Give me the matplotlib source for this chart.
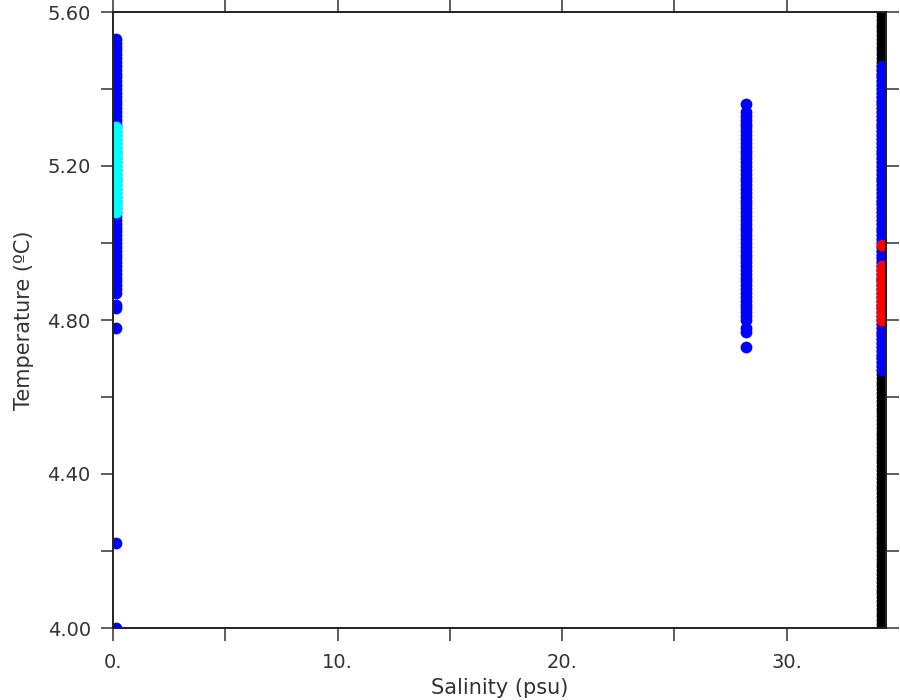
import matplotlib
matplotlib.use("Agg")
import matplotlib.pyplot as plt
import numpy as np
from matplotlib.ticker import MultipleLocator, FixedLocator, FixedFormatter

# ---- data ----
# blue samples near salinity 0
blue0_sal = 0.12
blue0_temp = [5.53, 5.52, 5.51, 5.50, 5.49, 5.48, 5.47, 5.46, 5.45, 5.44,
              5.43, 5.42, 5.41, 5.40, 5.39, 5.38, 5.37, 5.36, 5.35, 5.34,
              5.33, 5.32, 5.31, 5.30, 5.29, 5.28, 5.27, 5.26, 5.25, 5.24,
              5.23, 5.22, 5.21, 5.20, 5.19, 5.18, 5.17, 5.16, 5.15, 5.14,
              5.13, 5.12, 5.11, 5.10, 5.09, 5.08, 5.07, 5.06, 5.05, 5.04,
              5.03, 5.02, 5.01, 5.00, 4.99, 4.98, 4.97, 4.96, 4.95, 4.94,
              4.93, 4.92, 4.91, 4.90, 4.89, 4.88, 4.87, 4.84, 4.83, 4.78,
              4.22, 4.00]
# cyan samples near salinity 0
cyan0_sal = 0.14
cyan0_temp = [5.30, 5.29, 5.28, 5.27, 5.26, 5.25, 5.24, 5.23, 5.22, 5.21,
              5.20, 5.19, 5.18, 5.17, 5.16, 5.15, 5.14, 5.13, 5.12, 5.11,
              5.10, 5.09, 5.08]
# blue samples near salinity 28.2
blue28_sal = 28.2
blue28_temp = [5.36, 5.34, 5.33, 5.32, 5.31, 5.30, 5.29, 5.28, 5.27, 5.26,
               5.25, 5.24, 5.23, 5.22, 5.21, 5.20, 5.19, 5.18, 5.17, 5.16,
               5.15, 5.14, 5.13, 5.12, 5.11, 5.10, 5.09, 5.08, 5.07, 5.06,
               5.05, 5.04, 5.03, 5.02, 5.01, 5.00, 4.99, 4.98, 4.97, 4.96,
               4.95, 4.94, 4.93, 4.92, 4.91, 4.90, 4.89, 4.88, 4.87, 4.86,
               4.85, 4.84, 4.83, 4.82, 4.81, 4.80, 4.78, 4.77, 4.73]
# black samples near salinity 34.25
black34_sal = 34.25
black34_temp = [4.00, 4.01, 4.02, 4.03, 4.04, 4.05, 4.06, 4.07, 4.08, 4.09,
                4.10, 4.11, 4.12, 4.13, 4.14, 4.15, 4.16, 4.17, 4.18, 4.19,
                4.20, 4.21, 4.22, 4.23, 4.24, 4.25, 4.26, 4.27, 4.28, 4.29,
                4.30, 4.31, 4.32, 4.33, 4.34, 4.35, 4.36, 4.37, 4.38, 4.39,
                4.40, 4.41, 4.42, 4.43, 4.44, 4.45, 4.46, 4.47, 4.48, 4.49,
                4.50, 4.51, 4.52, 4.53, 4.54, 4.55, 4.56, 4.57, 4.58, 4.59,
                4.60, 4.61, 4.62, 4.63, 4.64, 4.65, 4.66, 4.67, 4.68, 4.69,
                4.70, 4.71, 4.72, 4.73, 4.74, 4.75, 4.76, 4.77, 4.78, 4.79,
                4.80, 4.81, 4.82, 4.83, 4.84, 4.85, 4.86, 4.87, 4.88, 4.89,
                4.90, 4.91, 4.92, 4.93, 4.94, 4.95, 4.96, 4.97, 4.98, 4.99,
                5.00, 5.01, 5.02, 5.03, 5.04, 5.05, 5.06, 5.07, 5.08, 5.09,
                5.10, 5.11, 5.12, 5.13, 5.14, 5.15, 5.16, 5.17, 5.18, 5.19,
                5.20, 5.21, 5.22, 5.23, 5.24, 5.25, 5.26, 5.27, 5.28, 5.29,
                5.30, 5.31, 5.32, 5.33, 5.34, 5.35, 5.36, 5.37, 5.38, 5.39,
                5.40, 5.41, 5.42, 5.43, 5.44, 5.45, 5.46, 5.47, 5.48, 5.49,
                5.50, 5.51, 5.52, 5.53, 5.54, 5.55, 5.56, 5.57, 5.58, 5.59,
                5.60]
# blue samples near salinity 34.25
blue34_sal = 34.25
blue34_temp = [5.46, 5.45, 5.44, 5.43, 5.42, 5.41, 5.40, 5.39, 5.38, 5.37,
               5.36, 5.35, 5.34, 5.33, 5.32, 5.31, 5.30, 5.29, 5.28, 5.27,
               5.26, 5.25, 5.24, 5.23, 5.22, 5.21, 5.20, 5.19, 5.18, 5.17,
               5.16, 5.15, 5.14, 5.13, 5.12, 5.11, 5.10, 5.09, 5.08, 5.07,
               5.06, 5.05, 5.04, 5.03, 5.02, 5.01, 5.00, 4.99, 4.98, 4.97,
               4.96, 4.95, 4.94, 4.93, 4.92, 4.91, 4.90, 4.89, 4.88, 4.87,
               4.86, 4.85, 4.84, 4.83, 4.82, 4.81, 4.80, 4.79, 4.78, 4.77,
               4.76, 4.75, 4.74, 4.73, 4.72, 4.71, 4.70, 4.69, 4.68, 4.67]
# red samples near salinity 34.27
red34_sal = 34.27
red34_temp = [4.995, 4.94, 4.93, 4.92, 4.91, 4.90, 4.89, 4.88, 4.87, 4.86,
              4.85, 4.84, 4.83, 4.82, 4.81, 4.80]

x_ticks = [0, 10, 20, 30]
x_ticklabels = ["0.", "10.", "20.", "30."]
y_ticks = [4.0, 4.4, 4.8, 5.2, 5.6]
y_ticklabels = ["4.00", "4.40", "4.80", "5.20", "5.60"]

# ---- figure ----
fig = plt.figure(figsize=(9, 7), dpi=100)
ax = fig.add_axes([113/900, 1 - 628/700, (886-113)/900, (628-12)/700])

ms = 72
def col(sal, temps, color):
    t = np.asarray(temps)
    ax.scatter(np.full(len(t), sal), t, s=ms, c=color, linewidths=0, zorder=2)

col(black34_sal, black34_temp, "#000000")
col(blue34_sal, blue34_temp, "#0000ff")
col(red34_sal, red34_temp, "#ff0000")
col(blue28_sal, blue28_temp, "#0000ff")
col(blue0_sal, blue0_temp, "#0000ff")
col(cyan0_sal, cyan0_temp, "#00ffff")

ax.set_xlim(0, 34.43)
ax.set_ylim(4.0, 5.6)

tc = "#333333"
ax.xaxis.set_major_locator(FixedLocator(x_ticks))
ax.xaxis.set_major_formatter(FixedFormatter(x_ticklabels))
ax.xaxis.set_minor_locator(MultipleLocator(5))
ax.yaxis.set_major_locator(FixedLocator(y_ticks))
ax.yaxis.set_major_formatter(FixedFormatter(y_ticklabels))
ax.yaxis.set_minor_locator(MultipleLocator(0.2))

for which in ("major", "minor"):
    ax.tick_params(axis="both", which=which, direction="out", length=9, width=1.1,
                   color="#333333", top=True, right=True)
ax.tick_params(axis="x", which="major", pad=9, labelsize=14, labelcolor=tc)
ax.tick_params(axis="y", which="major", pad=7, labelsize=14, labelcolor=tc)

for sp in ax.spines.values():
    sp.set_linewidth(1.4)
    sp.set_color("#222222")

ax.set_xlabel("Salinity (psu)", fontsize=15, color=tc, labelpad=4)
ax.set_ylabel("Temperature (ºC)", fontsize=15, color=tc, labelpad=10)

fig.savefig("out.png", dpi=100)
